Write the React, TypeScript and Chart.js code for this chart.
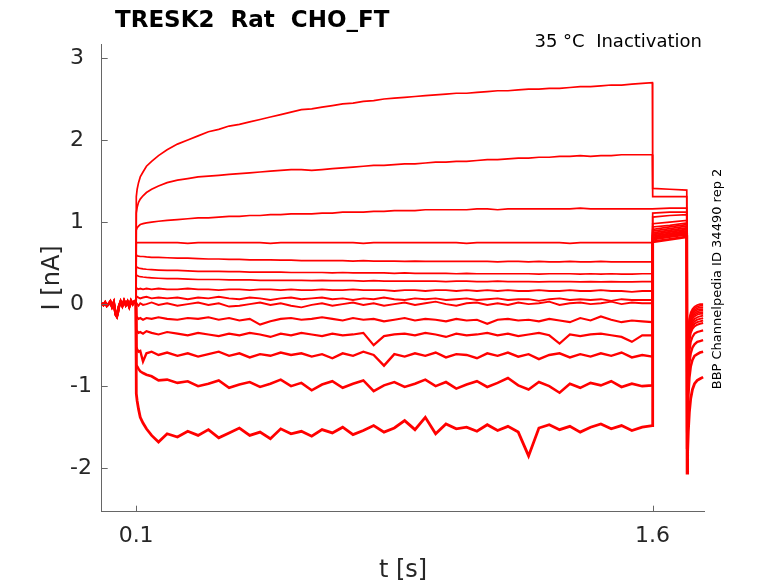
import { useEffect, useRef } from 'react'
import Chart from 'chart.js/auto'

// holding segment (0 .. 0.1 s), same for every sweep
const preT = [0, 0.005, 0.01, 0.015, 0.02, 0.025, 0.03, 0.035, 0.038, 0.041, 0.044, 0.047,
  0.05, 0.055, 0.06, 0.065, 0.07, 0.075, 0.08, 0.085, 0.09, 0.095, 0.0995]
const preI = [0.01, -0.01, 0.02, -0.02, 0.0, 0.03, -0.03, 0.02, -0.06, -0.13, -0.15, -0.1,
  -0.03, 0.03, -0.02, 0.04, -0.01, 0.03, -0.03, 0.04, 0.0, 0.03, 0.01]

// step segment (0.1 .. 1.6 s)
const stepT = [
  0.1005, 0.103, 0.107, 0.112, 0.12, 0.13, 0.145, 0.165,
  0.19, 0.22, 0.25, 0.28, 0.31, 0.34, 0.37, 0.4,
  0.43, 0.46, 0.49, 0.52, 0.55, 0.58, 0.61, 0.64,
  0.67, 0.7, 0.73, 0.76, 0.79, 0.82, 0.85, 0.88,
  0.91, 0.94, 0.97, 1.0, 1.03, 1.06, 1.09, 1.12,
  1.15, 1.18, 1.21, 1.24, 1.27, 1.3, 1.33, 1.36,
  1.39, 1.42, 1.45, 1.48, 1.51, 1.54, 1.57, 1.5995,
]

const stepI: number[][] = [
  [1.31, 1.4, 1.48, 1.55, 1.61, 1.68, 1.74, 1.81,
    1.88, 1.95, 2.0, 2.05, 2.1, 2.13, 2.17, 2.19,
    2.22, 2.25, 2.28, 2.31, 2.34, 2.37, 2.38, 2.4,
    2.42, 2.44, 2.45, 2.47, 2.48, 2.5, 2.51, 2.52,
    2.53, 2.54, 2.55, 2.56, 2.57, 2.57, 2.58, 2.59,
    2.6, 2.6, 2.61, 2.62, 2.62, 2.63, 2.63, 2.64,
    2.65, 2.65, 2.66, 2.67, 2.67, 2.68, 2.69, 2.7],
  [1.11, 1.18, 1.24, 1.28, 1.32, 1.36, 1.4, 1.44,
    1.48, 1.51, 1.53, 1.55, 1.56, 1.57, 1.58, 1.59,
    1.6, 1.61, 1.62, 1.63, 1.64, 1.64, 1.63, 1.64,
    1.65, 1.66, 1.67, 1.68, 1.69, 1.69, 1.7, 1.71,
    1.71, 1.72, 1.73, 1.73, 1.74, 1.74, 1.75, 1.76,
    1.76, 1.77, 1.78, 1.78, 1.79, 1.79, 1.8, 1.8,
    1.81, 1.8, 1.81, 1.81, 1.82, 1.82, 1.82, 1.82],
  [0.9, 0.93, 0.95, 0.97, 0.98, 0.99, 1.0, 1.01,
    1.02, 1.03, 1.04, 1.05, 1.05, 1.06, 1.07, 1.07,
    1.08, 1.08, 1.09, 1.09, 1.1, 1.1, 1.1, 1.11,
    1.11, 1.12, 1.12, 1.12, 1.13, 1.13, 1.14, 1.14,
    1.14, 1.15, 1.15, 1.15, 1.15, 1.15, 1.16, 1.16,
    1.15, 1.16, 1.16, 1.16, 1.16, 1.16, 1.16, 1.16,
    1.17, 1.16, 1.16, 1.16, 1.16, 1.16, 1.16, 1.16],
  [0.74, 0.75, 0.75, 0.75, 0.75, 0.75, 0.75, 0.75,
    0.75, 0.75, 0.74, 0.75, 0.75, 0.75, 0.75, 0.75,
    0.75, 0.75, 0.74, 0.75, 0.75, 0.75, 0.75, 0.75,
    0.75, 0.75, 0.75, 0.74, 0.75, 0.75, 0.75, 0.75,
    0.75, 0.75, 0.75, 0.75, 0.75, 0.74, 0.75, 0.75,
    0.75, 0.75, 0.75, 0.75, 0.75, 0.75, 0.75, 0.74,
    0.75, 0.75, 0.75, 0.75, 0.75, 0.75, 0.75, 0.75],
  [0.6, 0.59, 0.585, 0.58, 0.58, 0.575, 0.57, 0.57,
    0.565, 0.56, 0.56, 0.555, 0.55, 0.55, 0.545, 0.545,
    0.54, 0.54, 0.54, 0.535, 0.535, 0.53, 0.53, 0.53,
    0.53, 0.53, 0.525, 0.53, 0.525, 0.525, 0.525, 0.52,
    0.525, 0.52, 0.52, 0.52, 0.52, 0.52, 0.52, 0.52,
    0.515, 0.52, 0.52, 0.515, 0.52, 0.515, 0.515, 0.52,
    0.515, 0.515, 0.52, 0.515, 0.515, 0.515, 0.515, 0.515],
  [0.455, 0.45, 0.44, 0.435, 0.43, 0.425, 0.42, 0.415,
    0.41, 0.41, 0.405, 0.4, 0.4, 0.4, 0.395, 0.395,
    0.39, 0.39, 0.39, 0.39, 0.385, 0.385, 0.385, 0.385,
    0.38, 0.385, 0.38, 0.38, 0.38, 0.38, 0.375, 0.38,
    0.375, 0.375, 0.375, 0.375, 0.37, 0.375, 0.37, 0.37,
    0.37, 0.37, 0.37, 0.37, 0.365, 0.37, 0.37, 0.37,
    0.365, 0.37, 0.365, 0.37, 0.365, 0.365, 0.37, 0.37],
  [0.355, 0.35, 0.34, 0.335, 0.33, 0.325, 0.32, 0.315,
    0.31, 0.31, 0.305, 0.3, 0.3, 0.3, 0.295, 0.295,
    0.295, 0.29, 0.29, 0.29, 0.29, 0.29, 0.285, 0.29,
    0.285, 0.285, 0.285, 0.28, 0.285, 0.28, 0.28, 0.28,
    0.28, 0.28, 0.28, 0.275, 0.28, 0.28, 0.275, 0.275,
    0.28, 0.275, 0.275, 0.275, 0.27, 0.275, 0.275, 0.275,
    0.27, 0.275, 0.27, 0.275, 0.27, 0.27, 0.275, 0.275],
  [0.19, 0.19, 0.18, 0.19, 0.18, 0.19, 0.18, 0.19,
    0.18, 0.18, 0.19, 0.18, 0.18, 0.17, 0.18, 0.18,
    0.17, 0.18, 0.18, 0.17, 0.18, 0.17, 0.17, 0.18,
    0.17, 0.17, 0.18, 0.17, 0.17, 0.17, 0.16, 0.17,
    0.17, 0.16, 0.17, 0.17, 0.16, 0.17, 0.16, 0.17,
    0.16, 0.17, 0.16, 0.16, 0.17, 0.16, 0.16, 0.17,
    0.16, 0.16, 0.17, 0.16, 0.16, 0.15, 0.16, 0.16],
  [0.08, 0.09, 0.08, 0.07, 0.08, 0.09, 0.07, 0.08,
    0.07, 0.08, 0.06, 0.08, 0.07, 0.09, 0.07, 0.06,
    0.08, 0.07, 0.05, 0.07, 0.08, 0.06, 0.07, 0.08,
    0.06, 0.07, 0.05, 0.07, 0.06, 0.08, 0.06, 0.05,
    0.07, 0.06, 0.07, 0.05, 0.06, 0.07, 0.05, 0.06,
    0.07, 0.05, 0.06, 0.06, 0.04, 0.06, 0.07, 0.05,
    0.06, 0.05, 0.06, 0.04, 0.06, 0.05, 0.05, 0.05],
  [-0.01, 0.0, -0.02, 0.01, -0.01, 0.0, 0.02, -0.01,
    0.01, -0.02, 0.0, 0.02, -0.01, 0.01, -0.03, -0.02,
    0.0, 0.02, -0.01, 0.01, -0.02, -0.04, -0.01, 0.01,
    -0.02, 0.0, 0.02, -0.01, 0.01, -0.02, 0.0, 0.02,
    -0.01, 0.01, 0.03, 0.0, -0.02, 0.01, 0.02, -0.01,
    0.01, -0.01, 0.02, 0.0, 0.01, 0.03, -0.01, 0.01,
    0.02, 0.0, 0.01, 0.03, 0.0, 0.02, 0.01, 0.01],
  [-0.17, -0.16, -0.18, -0.17, -0.19, -0.17, -0.18, -0.16,
    -0.18, -0.19, -0.17, -0.18, -0.16, -0.19, -0.17, -0.2,
    -0.18, -0.25, -0.21, -0.18, -0.17, -0.19, -0.18, -0.16,
    -0.18, -0.2, -0.17, -0.19, -0.18, -0.21, -0.19, -0.17,
    -0.2, -0.18, -0.19, -0.21, -0.18, -0.2, -0.19, -0.24,
    -0.19, -0.18, -0.2, -0.19, -0.21, -0.18, -0.2, -0.22,
    -0.17, -0.2, -0.15, -0.19, -0.22, -0.2, -0.21, -0.22],
  [-0.34, -0.33, -0.35, -0.34, -0.36, -0.33, -0.35, -0.37,
    -0.34, -0.36, -0.38, -0.35, -0.37, -0.39, -0.36, -0.38,
    -0.35, -0.37, -0.4, -0.36, -0.38, -0.35, -0.37, -0.39,
    -0.36, -0.38, -0.37, -0.35, -0.5, -0.39, -0.37, -0.36,
    -0.38, -0.35, -0.37, -0.4, -0.36, -0.38, -0.37, -0.35,
    -0.38, -0.36, -0.39, -0.37, -0.35, -0.38, -0.48, -0.37,
    -0.39, -0.37, -0.36, -0.38, -0.4, -0.46, -0.38, -0.38],
  [-0.52, -0.55, -0.58, -0.57, -0.7, -0.6, -0.58, -0.62,
    -0.59, -0.63, -0.6, -0.64, -0.61, -0.58, -0.63, -0.6,
    -0.65, -0.61, -0.63, -0.59, -0.62, -0.6, -0.64, -0.61,
    -0.66, -0.6, -0.63, -0.58, -0.62, -0.75, -0.61, -0.64,
    -0.6, -0.63, -0.59, -0.65, -0.61, -0.62, -0.66, -0.6,
    -0.63, -0.59, -0.64, -0.61, -0.67, -0.62, -0.6, -0.65,
    -0.61, -0.64, -0.6, -0.63, -0.59, -0.65, -0.62, -0.64],
  [-0.74, -0.76, -0.79, -0.82, -0.84, -0.86, -0.88, -0.93,
    -0.92, -0.96, -0.94, -1.0, -0.97, -0.93, -1.02, -0.98,
    -0.95, -1.01, -0.97, -0.92, -1.0, -0.96, -1.05, -0.98,
    -0.94, -1.02, -0.97, -0.93, -1.06, -0.99, -0.95, -1.01,
    -0.97, -0.92, -1.0, -0.95, -1.03, -0.98, -0.94, -1.01,
    -0.96, -0.9, -0.99, -1.04, -0.95, -1.0, -1.08, -0.97,
    -1.02, -0.96, -0.99, -0.94, -1.01, -0.97, -1.0, -0.99],
  [-1.09, -1.18, -1.28, -1.38, -1.45, -1.52, -1.6, -1.68,
    -1.58, -1.62, -1.55, -1.6, -1.53, -1.63, -1.57, -1.51,
    -1.6, -1.56, -1.64, -1.52, -1.58, -1.55, -1.61, -1.53,
    -1.57, -1.5, -1.59, -1.54, -1.48, -1.56, -1.51, -1.42,
    -1.53, -1.38, -1.58, -1.46, -1.52, -1.5, -1.55, -1.47,
    -1.54, -1.49, -1.56, -1.85, -1.51, -1.47, -1.53, -1.49,
    -1.56, -1.5, -1.46, -1.52, -1.48, -1.54, -1.5, -1.48],
]

// test pulse (1.6 .. 1.7 s)
const tailT = [1.6005, 1.65, 1.6995]
const tailI: number[][] = [
  [1.41, 1.4, 1.39], [1.31, 1.31, 1.31], [1.16, 1.17, 1.17], [1.11, 1.12, 1.12],
  [1.06, 1.08, 1.09], [0.98, 1.0, 1.02], [0.94, 0.96, 0.99], [0.91, 0.94, 0.97],
  [0.89, 0.92, 0.95], [0.87, 0.9, 0.93], [0.85, 0.88, 0.91], [0.83, 0.86, 0.89],
  [0.81, 0.84, 0.87], [0.79, 0.82, 0.85], [0.76, 0.79, 0.82],
]

// after the test pulse (1.7 s ..)
const postT = [1.7005, 1.702, 1.704, 1.707, 1.711, 1.716, 1.722, 1.73, 1.738, 1.747]
const postI: number[][] = [
  [-0.88, -0.5, -0.29, -0.17, -0.1, -0.06, -0.03, -0.01, 0.0, 0.0],
  [-0.9, -0.52, -0.31, -0.19, -0.12, -0.08, -0.05, -0.03, -0.02, -0.02],
  [-0.92, -0.55, -0.34, -0.21, -0.14, -0.1, -0.07, -0.05, -0.04, -0.04],
  [-0.95, -0.58, -0.37, -0.23, -0.16, -0.12, -0.09, -0.07, -0.06, -0.06],
  [-1.0, -0.62, -0.4, -0.25, -0.18, -0.14, -0.11, -0.09, -0.08, -0.08],
  [-1.05, -0.66, -0.43, -0.28, -0.2, -0.16, -0.13, -0.11, -0.1, -0.1],
  [-1.1, -0.7, -0.46, -0.31, -0.23, -0.18, -0.15, -0.13, -0.12, -0.12],
  [-1.15, -0.75, -0.5, -0.34, -0.26, -0.21, -0.18, -0.16, -0.15, -0.14],
  [-1.2, -0.8, -0.54, -0.38, -0.29, -0.24, -0.21, -0.19, -0.18, -0.17],
  [-1.25, -0.85, -0.58, -0.41, -0.32, -0.27, -0.24, -0.22, -0.21, -0.2],
  [-1.3, -0.9, -0.62, -0.45, -0.35, -0.3, -0.27, -0.25, -0.24, -0.23],
  [-1.4, -1.05, -0.78, -0.58, -0.46, -0.4, -0.36, -0.34, -0.33, -0.32],
  [-1.55, -1.2, -0.92, -0.72, -0.6, -0.53, -0.49, -0.46, -0.45, -0.44],
  [-1.75, -1.4, -1.12, -0.9, -0.76, -0.68, -0.63, -0.61, -0.59, -0.58],
  [-2.06, -1.8, -1.55, -1.32, -1.15, -1.04, -0.97, -0.93, -0.91, -0.89],
]

const xTicks = [0.1, 1.6]
const yTicks = [-2, -1, 0, 1, 2, 3]

// noisier (lower) sweeps look thicker in the recording
const lineWidths = [1.7, 1.7, 1.7, 1.7, 1.7, 1.7, 1.7, 1.8, 1.9, 1.9, 2.1, 2.2, 2.4, 2.6, 2.8]

const FONT = '"DejaVu Sans", sans-serif'
const AXIS = '#666666'
const TEXT = '#262626'

const decor = {
  id: 'decor',
  afterDraw(chart: any) {
    const { ctx, chartArea, scales } = chart
    ctx.save()
    // inward tick marks
    ctx.strokeStyle = AXIS
    ctx.lineWidth = 1
    ctx.beginPath()
    scales.x.ticks.forEach((t: any) => {
      const px = Math.round(scales.x.getPixelForValue(t.value)) + 0.5
      ctx.moveTo(px, chartArea.bottom)
      ctx.lineTo(px, chartArea.bottom - 6)
    })
    scales.y.ticks.forEach((t: any) => {
      const py = Math.round(scales.y.getPixelForValue(t.value)) + 0.5
      ctx.moveTo(chartArea.left, py)
      ctx.lineTo(chartArea.left + 6, py)
    })
    ctx.stroke()

    ctx.fillStyle = '#000'
    ctx.font = `bold 23px ${FONT}`
    ctx.textAlign = 'left'
    ctx.textBaseline = 'alphabetic'
    ctx.fillText('TRESK2  Rat  CHO_FT', 115, 27)

    ctx.font = `18px ${FONT}`
    ctx.textAlign = 'right'
    ctx.fillText('35 °C  Inactivation', 702, 47)

    ctx.fillStyle = TEXT
    ctx.font = `24px ${FONT}`
    ctx.textAlign = 'center'
    ctx.fillText('t [s]', (chartArea.left + chartArea.right) / 2, 577)

    ctx.save()
    ctx.translate(58.5, (chartArea.top + chartArea.bottom) / 2)
    ctx.rotate(-Math.PI / 2)
    ctx.fillText('I [nA]', 0, 0)
    ctx.restore()

    ctx.save()
    ctx.fillStyle = '#000'
    ctx.font = `13px ${FONT}`
    ctx.translate(721, 279)
    ctx.rotate(-Math.PI / 2)
    ctx.fillText('BBP Channelpedia ID 34490 rep 2', 0, 0)
    ctx.restore()
    ctx.restore()
  },
}

export default function App() {
  const canvasRef = useRef<HTMLCanvasElement>(null)

  useEffect(() => {
    const ctx = canvasRef.current?.getContext('2d')
    if (!ctx) return

    const datasets = stepI.map((step, k) => ({
      data: [
        ...preT.map((t, i) => ({ x: t, y: preI[i] })),
        ...stepT.map((t, i) => ({ x: t, y: step[i] })),
        ...tailT.map((t, i) => ({ x: t, y: tailI[k][i] })),
        ...postT.map((t, i) => ({ x: t, y: postI[k][i] })),
      ],
      showLine: true,
      borderColor: '#ff0000',
      borderWidth: lineWidths[k],
      pointRadius: 0,
      tension: 0,
    }))

    const chart = new Chart(ctx, {
      type: 'scatter',
      data: { datasets },
      options: {
        animation: false,
        responsive: true,
        maintainAspectRatio: false,
        layout: { padding: { left: 70, right: 73.5, top: 44, bottom: 0 } },
        plugins: { legend: { display: false }, tooltip: { enabled: false } },
        scales: {
          x: {
            type: 'linear',
            min: 0,
            max: 1.751,
            grid: { display: false, drawTicks: false },
            border: { display: true, color: AXIS, width: 1 },
            ticks: {
              color: TEXT,
              font: { family: FONT, size: 22 },
              padding: 11,
              maxRotation: 0,
              autoSkip: false,
              callback: (v: any) => String(v),
            },
            afterBuildTicks: (s: any) => { s.ticks = xTicks.map((v) => ({ value: v })) },
            afterFit: (s: any) => { s.height = 71.3 },
          },
          y: {
            min: -2.53,
            max: 3.17,
            grid: { display: false, drawTicks: false },
            border: { display: true, color: AXIS, width: 1 },
            ticks: {
              color: TEXT,
              font: { family: FONT, size: 22 },
              crossAlign: 'far',
              autoSkip: false,
              callback: (v: any) => String(v),
            },
            afterBuildTicks: (s: any) => { s.ticks = yTicks.map((v) => ({ value: v })) },
            afterFit: (s: any) => { s.width = 31.7 },
          },
        },
      },
      plugins: [decor],
    })

    return () => chart.destroy()
  }, [])

  return (
    <div style={{ position: 'fixed', left: 0, top: 0, width: 778, height: 583, background: '#fff' }}>
      <canvas ref={canvasRef} />
    </div>
  )
}
